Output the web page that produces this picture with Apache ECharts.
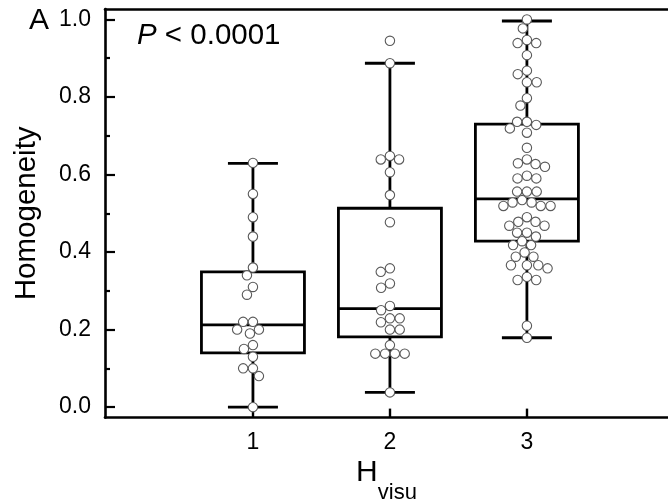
<!DOCTYPE html>
<html><head><meta charset="utf-8">
<script src="https://cdn.jsdelivr.net/npm/echarts@6/dist/echarts.min.js"></script>
<style>html,body{margin:0;padding:0;background:#fff}#c{width:668px;height:501px}</style>
</head><body><div id="c"></div>
<script>
// ---- data ----
const categories = [1, 2, 3];
const tickLabels = ['1', '2', '3'];
const yTicks = [0, 0.2, 0.4, 0.6, 0.8, 1.0];
const yMinorTicks = [0.1, 0.3, 0.5, 0.7, 0.9];

const group1 = [0.63, 0.55, 0.49, 0.44, 0.36, 0.34, 0.31, 0.29, 0.22, 0.22, 0.20, 0.20, 0.19,
  0.16, 0.15, 0.13, 0.10, 0.10, 0.08, 0.00];
const group2 = [0.945, 0.887, 0.648, 0.639, 0.639, 0.606, 0.547, 0.477, 0.358, 0.349, 0.319, 0.308,
  0.261, 0.250, 0.229, 0.229, 0.219, 0.200, 0.200, 0.160, 0.138, 0.138, 0.138, 0.138, 0.038];
const group3 = [1.00, 0.977, 0.947, 0.939, 0.939, 0.908, 0.868, 0.859, 0.838, 0.838, 0.797, 0.778,
  0.736, 0.736, 0.728, 0.719, 0.708, 0.669, 0.639, 0.629, 0.627, 0.620, 0.597, 0.590, 0.590,
  0.556, 0.556, 0.556, 0.534, 0.528, 0.528, 0.519, 0.519, 0.519, 0.490, 0.478, 0.478, 0.468,
  0.468, 0.450, 0.450, 0.440, 0.428, 0.418, 0.418, 0.399, 0.388, 0.388, 0.366, 0.366, 0.366,
  0.358, 0.336, 0.328, 0.328, 0.210, 0.179];

// box statistics: [lower whisker, Q1, median, Q3, upper whisker]
const box1 = [0.00, 0.14, 0.212, 0.349, 0.629];
const box2 = [0.038, 0.181, 0.254, 0.513, 0.887];
const box3 = [0.179, 0.428, 0.537, 0.730, 0.996];

const groups = [group1, group2, group3];
const boxes = [box1, box2, box3];

// ---- styling ----
const FONT = 'Arial, "Liberation Sans", sans-serif';
const BOX_W = 103, CAP_W = 50, LW = 2.8, DOT = 9.4;

const chart = echarts.init(document.getElementById('c'), null, {renderer: 'canvas'});

const X_MIN = -0.08, X_MAX = 4.03, Y_MIN = -0.027, Y_MAX = 1.027;
const axisLineStyle = {color: '#000', width: 2.6};

const boxData = categories.map((c, i) => [c].concat(boxes[i]));
const initialPts = [];
groups.forEach((g, i) => g.forEach(v => initialPts.push([categories[i], v])));

chart.setOption({
  animation: false,
  backgroundColor: '#fff',
  textStyle: {fontFamily: FONT},
  grid: {left: 105, right: 0, top: 9, bottom: 83.4, containLabel: false, outerBoundsMode: 'none'},
  title: [
    {text: 'A', left: 24, top: 1, textStyle: {fontSize: 30, fontWeight: 'normal', color: '#000', fontFamily: FONT}},
    {text: '{i|P} < 0.0001', left: 132, top: 16,
     textStyle: {fontSize: 29.5, fontWeight: 'normal', color: '#000', fontFamily: FONT,
       rich: {i: {fontStyle: 'italic', fontSize: 29.5, color: '#000', fontFamily: FONT}}}}
  ],
  xAxis: [
    {type: 'value', min: X_MIN, max: X_MAX, position: 'bottom',
     axisLine: {show: true, onZero: false, lineStyle: axisLineStyle},
     axisTick: {show: true, inside: true, length: 9, customValues: categories, lineStyle: {color: '#000', width: 2.4}},
     axisLabel: {show: true, customValues: categories, margin: 14, fontSize: 23, color: '#000', fontFamily: FONT,
       formatter: v => tickLabels[categories.indexOf(v)] || ''},
     splitLine: {show: false},
     name: '{h|H}{s|visu}', nameLocation: 'middle', nameGap: 40, nameMoveOverlap: false,
     nameTextStyle: {color: '#000', fontFamily: FONT,
       rich: {h: {fontSize: 30, lineHeight: 30, color: '#000', fontFamily: FONT},
              s: {fontSize: 22, lineHeight: 22, padding: [40, 0, 0, 0], color: '#000', fontFamily: FONT}}}},
    {type: 'value', min: X_MIN, max: X_MAX, position: 'top',
     axisLine: {show: true, onZero: false, lineStyle: axisLineStyle},
     axisTick: {show: false}, axisLabel: {show: false}, splitLine: {show: false}}
  ],
  yAxis: [
    {type: 'value', min: Y_MIN, max: Y_MAX, position: 'left',
     axisLine: {show: true, onZero: false, lineStyle: axisLineStyle},
     axisTick: {show: true, inside: true, length: 10, customValues: yTicks, lineStyle: {color: '#000', width: 2.2}},
     axisLabel: {show: true, customValues: yTicks, margin: 14, fontSize: 23, color: '#000', fontFamily: FONT,
       formatter: v => v.toFixed(1)},
     splitLine: {show: false},
     name: 'Homogeneity', nameLocation: 'middle', nameGap: 63, nameMoveOverlap: false,
     nameTextStyle: {fontSize: 29.5, color: '#000', fontFamily: FONT}},
    {type: 'value', min: Y_MIN, max: Y_MAX, position: 'left',
     axisLine: {show: false, onZero: false},
     axisTick: {show: true, inside: true, length: 5, customValues: yMinorTicks, lineStyle: {color: '#000', width: 2.2}},
     axisLabel: {show: false}, splitLine: {show: false}}
  ],
  series: [
    {id: 'boxes', type: 'custom', xAxisIndex: 0, yAxisIndex: 0, data: boxData, z: 2,
     encode: {x: 0, y: [1, 2, 3, 4, 5]},
     renderItem: (params, api) => {
       const x = api.value(0);
       const p = [1, 2, 3, 4, 5].map(i => api.coord([x, api.value(i)]));
       const cx = p[0][0], hw = BOX_W / 2, cw = CAP_W / 2;
       const ls = {stroke: '#000', lineWidth: LW, fill: null};
       return {type: 'group', children: [
         {type: 'line', shape: {x1: cx, y1: p[0][1], x2: cx, y2: p[1][1]}, style: ls},
         {type: 'line', shape: {x1: cx, y1: p[3][1], x2: cx, y2: p[4][1]}, style: ls},
         {type: 'line', shape: {x1: cx - cw, y1: p[0][1], x2: cx + cw, y2: p[0][1]}, style: ls},
         {type: 'line', shape: {x1: cx - cw, y1: p[4][1], x2: cx + cw, y2: p[4][1]}, style: ls},
         {type: 'rect', shape: {x: cx - hw, y: p[3][1], width: 2 * hw, height: p[1][1] - p[3][1]},
          style: {stroke: '#000', lineWidth: LW, fill: 'none'}},
         {type: 'line', shape: {x1: cx - hw, y1: p[2][1], x2: cx + hw, y2: p[2][1]}, style: ls}
       ]};
     }},
    {id: 'pts', type: 'scatter', xAxisIndex: 0, yAxisIndex: 0, z: 5, data: initialPts,
     symbol: 'circle', symbolSize: DOT,
     itemStyle: {color: '#fff', borderColor: '#5a5a5a', borderWidth: 1.1, opacity: 1}}
  ]
});

// beeswarm layout computed in pixel space through the chart's own scales
function swarm(cat, vals) {
  const D = DOT + 0.4;
  const cxPix = chart.convertToPixel({gridIndex: 0}, [cat, 0])[0];
  const order = vals.map((v, i) => i).sort((a, b) => vals[b] - vals[a]);
  const placed = [];
  const res = new Array(vals.length);
  order.forEach(i => {
    const py = chart.convertToPixel({gridIndex: 0}, [cat, vals[i]])[1];
    const cands = [0];
    placed.forEach(q => {
      const dy = Math.abs(q.y - py);
      if (dy < D) {
        const dx = Math.sqrt(D * D - dy * dy);
        cands.push(q.x + dx, q.x - dx);
      }
    });
    cands.sort((a, b) => Math.abs(a) - Math.abs(b) || a - b);
    let chosen = 0;
    for (const c of cands) {
      if (placed.every(q => (q.x - c) ** 2 + (q.y - py) ** 2 >= D * D - 0.01)) { chosen = c; break; }
    }
    placed.push({x: chosen, y: py});
    res[i] = chart.convertFromPixel({gridIndex: 0}, [cxPix + chosen, py])[0];
  });
  return vals.map((v, i) => [res[i], v]);
}

const pts = [];
categories.forEach((c, i) => swarm(c, groups[i]).forEach(d => pts.push(d)));
chart.setOption({series: [{id: 'pts', data: pts}]});
</script>
</body></html>
